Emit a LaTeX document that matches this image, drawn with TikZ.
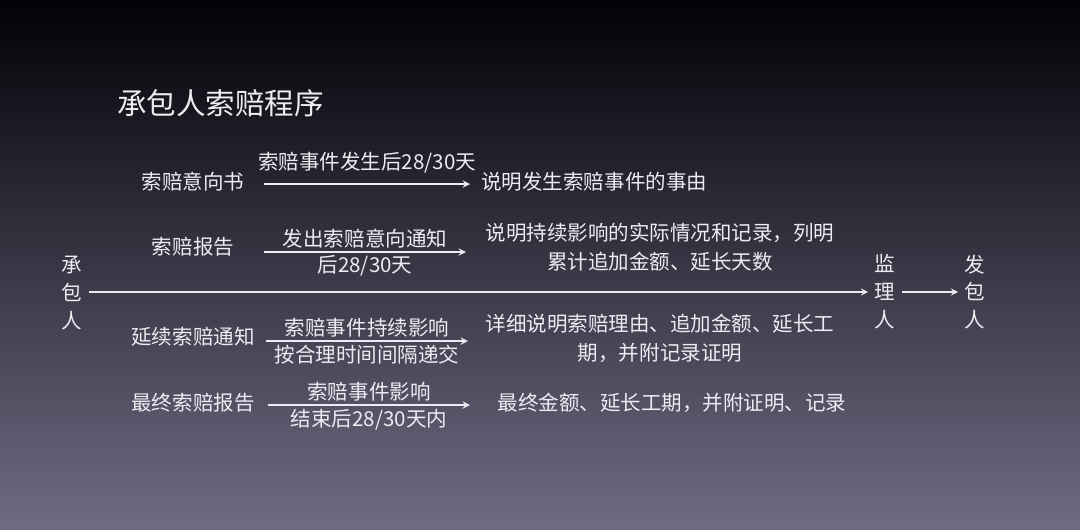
\documentclass[tikz,border=0pt]{standalone}
\usepackage{fontspec}
\usepackage{tikz}
\newfontfamily\cjk{Noto Sans CJK SC}
\usetikzlibrary{positioning, arrows, calc}
\definecolor{bgtop}{HTML}{010106}
\definecolor{bgmid}{HTML}{24243C}
\definecolor{bgbot}{HTML}{6D6C83}
\definecolor{ink}{HTML}{ECECF2}

\begin{document}
\begin{tikzpicture}[x=0.025cm,y=-0.025cm,>=stealth,ink,line width=1.3pt,
                txt/.style={text=ink,font=\cjk\fontsize{14.6}{20.5}\selectfont,inner sep=1pt},
                who/.style={txt,align=center,inner sep=4pt,font=\cjk\fontsize{14.6}{19.8}\selectfont},
                lbl/.style={txt,align=center}]
                \shade[top color=bgtop,middle color=bgmid,bottom color=bgbot] (0,0) rectangle (1080,529);
                \useasboundingbox (0,0) rectangle (1080,529);
                \node[txt,anchor=west,font=\cjk\fontsize{21}{24}\selectfont] (title) at (115,103) {承包人索赔程序};
                % parties
                \node[who] (cbr) at (72,293) {承\\包\\人};
                \node[who] (jlr) at (885,292) {监\\理\\人};
                \node[who] (fbr) at (975,292) {发\\包\\人};
                \draw[->] (cbr.east |- 0,292) -- (jlr.west |- 0,292);
                \draw[->] (jlr) -- (fbr);
                % row 1
                \node[txt] (yxs) at (193,182) {索赔意向书};
                \coordinate (s1) at (264,184);
                \coordinate (e1) at (470,184);
                \draw[->] (s1) -- (e1) node[lbl,midway,above=6pt] (t1) {索赔事件发生后28/30天};
                \node[txt,anchor=west] (r1) at (479,182) {说明发生索赔事件的事由};
                % row 2
                \node[txt] (bg) at (193,247) {索赔报告};
                \coordinate (s2) at (264,252);
                \coordinate (e2) at (466,252);
                \draw[->] (s2) -- (e2) node[lbl,midway,above=1pt] (t2) {发出索赔意向通知}
                node[lbl,midway,below=1pt] (b2) {后28/30天};
                \node[txt,align=center] (r2) at (660,247) {说明持续影响的实际情况和记录，列明\\累计追加金额、延长天数};
                % row 3
                \node[txt] (yx) at (193,337) {延续索赔通知};
                \coordinate (s3) at (266,341);
                \coordinate (e3) at (468,341);
                \draw[->] (s3) -- (e3) node[lbl,midway,above=1pt] (t3) {索赔事件持续影响}
                node[lbl,midway,below=1pt] (b3) {按合理时间间隔递交};
                \node[txt,align=center] (r3) at (660,338) {详细说明索赔理由、追加金额、延长工\\期，并附记录证明};
                % row 4
                \node[txt] (zz) at (193,403) {最终索赔报告};
                \coordinate (s4) at (268,405);
                \coordinate (e4) at (470,405);
                \draw[->] (s4) -- (e4) node[lbl,midway,above=1pt] (t4) {索赔事件影响}
                node[lbl,midway,below=1pt] (b4) {结束后28/30天内};
                \node[txt] (r4) at (672,403) {最终金额、延长工期，并附证明、记录};
\end{tikzpicture}
\end{document}
